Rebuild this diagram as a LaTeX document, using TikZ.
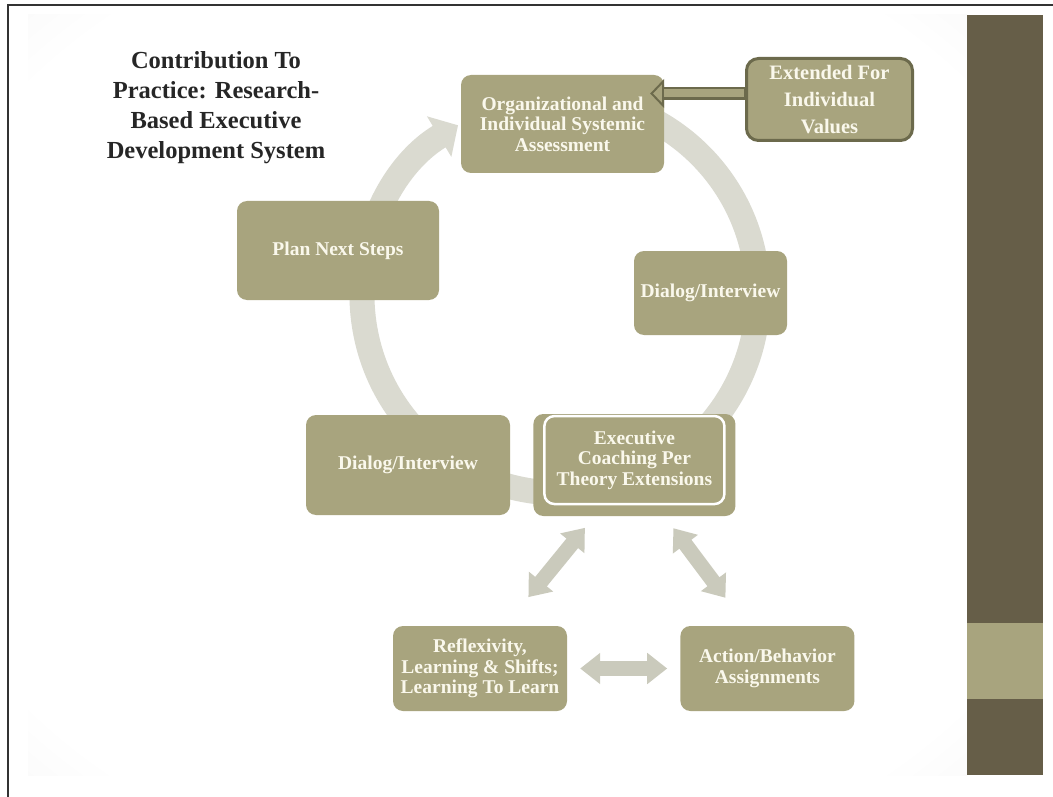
\documentclass[tikz,border=0pt]{standalone}
\usepackage{fontspec}
\setmainfont{Liberation Serif}
\usetikzlibrary{arrows.meta, positioning}

\definecolor{stagefill}{RGB}{168,164,126}
\definecolor{stagetext}{RGB}{250,248,236}
\definecolor{stripbrown}{RGB}{102,94,72}
\definecolor{ringgray}{RGB}{218,218,208}
\definecolor{linkgray}{RGB}{202,202,188}
\definecolor{extborder}{RGB}{108,106,76}

\pgfdeclareradialshading{slideglow}{\pgfpoint{0bp}{0bp}}{color(0bp)=(white); color(32bp)=(white); color(71bp)=(black!17)}

\tikzstyle{stage} = [rectangle, rounded corners=10pt, fill=stagefill, text=stagetext, align=center, inner sep=0pt, font=\bfseries\fontsize{19.5}{20.5}\selectfont]
\tikzstyle{extbox} = [stage, draw=extborder, line width=3pt, rounded corners=12pt, minimum width=166pt, minimum height=82pt, font=\bfseries\fontsize{20.5}{27}\selectfont]
\tikzstyle{headline} = [align=center, inner sep=0pt, text=black!85, font=\bfseries\fontsize{24.5}{30}\selectfont]
\tikzstyle{ringarc} = [line width=25pt, draw=ringgray, -{Triangle[width=46pt,length=22pt]}]
\tikzstyle{link} = [line width=15pt, draw=linkgray, <->, >={Triangle[width=30pt,length=20pt]}]
\tikzstyle{feed} = [line width=13pt, draw=extborder, shorten >=-14pt, -{Triangle[width=29pt,length=14pt,line width=2pt,fill=stagefill]}]
\tikzstyle{feedcore} = [line width=8pt, draw=stagefill, shorten <=1.5pt]

\begin{document}
\begin{tikzpicture}[x=1pt, y=1pt]
\useasboundingbox (0,0) rectangle (1053,-797);

% slide
\shade [shading=slideglow] (28,-15) rectangle (967,-775);
\fill [stripbrown] (967,-15) rectangle (1043,-775);
\fill [stagefill] (967,-623) rectangle (1043,-699);
\draw [line width=1.5pt, black!80] (8,-797) -- (8,-5) -- (1053,-5);

\node (title) [headline] at (216,-108) {Contribution To\\Practice: Research-\\Based Executive\\Development System};

% ring
\coordinate (hub) at (560,-295);
\draw [ringarc] ([shift={(100:198pt)}]hub) arc [start angle=100, end angle=-239, radius=198pt];

% stages
\node (org) [stage, minimum width=203pt, minimum height=98pt] at (562.5,-124) {Organizational and\\Individual Systemic\\Assessment};
\node (ext) [extbox] at (829.5,-99.5) {Extended For\\Individual\\Values};
\node (dlgR) [stage, minimum width=153pt, minimum height=84pt] at (710.5,-293) {Dialog/Interview};
\node (plan) [stage, minimum width=202pt, minimum height=99pt] at (338,-250.5) {Plan Next Steps};
\node (dlgL) [stage, minimum width=204pt, minimum height=100pt] at (408,-465) {Dialog/Interview};
\node (exec) [stage, minimum width=202pt, minimum height=102pt, right=23pt of dlgL] {};
\node (execin) [stage, draw=white, line width=2.5pt, minimum width=180pt, minimum height=88pt, below=1pt of exec.north] {Executive\\Coaching Per\\Theory Extensions};
\node (refl) [stage, minimum width=174pt, minimum height=85pt] at (480,-668.5) {Reflexivity,\\Learning \& Shifts;\\Learning To Learn};
\node (act) [stage, minimum width=174pt, minimum height=85pt, right=113pt of refl] {Action/Behavior\\Assignments};

% arrows
\coordinate (extout) at ([yshift=6pt]ext.west);
\draw [feed] (extout) -- (org.east |- extout);
\draw [feedcore] (extout) -- (org.east |- extout);
\draw [link, shorten <=15pt, shorten >=37pt] ([xshift=-40pt]exec.south) -- ([xshift=25pt]refl.north);
\draw [link, shorten <=15pt, shorten >=35pt] ([xshift=30pt]exec.south) -- ([xshift=-21pt]act.north);
\draw [link, shorten <=13pt, shorten >=13pt] (refl) -- (act);
\end{tikzpicture}
\end{document}
